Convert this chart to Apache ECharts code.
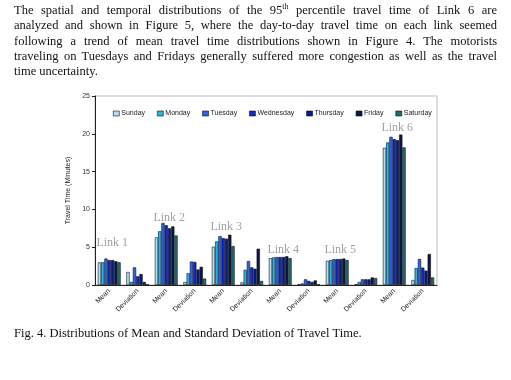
<!DOCTYPE html>
<html>
<head>
<meta charset="utf-8">
<script src="https://cdn.jsdelivr.net/npm/echarts@6/dist/echarts.min.js"></script>
<style>
html,body{margin:0;padding:0;background:#fff;}
#wrap{position:relative;width:511px;height:380px;overflow:hidden;}
#chart{position:absolute;left:0;top:0;width:511px;height:380px;}
.para{position:absolute;left:14px;width:483px;font-family:"Liberation Serif",serif;font-size:12.5px;color:#111;line-height:15.3px;}
.ln{text-align:justify;text-align-last:justify;white-space:nowrap;height:15.3px;}
.ln.last{text-align-last:left;}
#cap{position:absolute;left:14px;top:326px;font-family:"Liberation Serif",serif;font-size:12.5px;color:#111;}
</style>
</head>
<body>
<div id="wrap">
<div id="chart"></div>
<div class="para" style="top:3px;">
<div class="ln">The spatial and temporal distributions of the 95<sup style="font-size:8px;line-height:0;">th</sup> percentile travel time of Link 6 are</div>
<div class="ln">analyzed and shown in Figure 5, where the day-to-day travel time on each link seemed</div>
<div class="ln">following a trend of mean travel time distributions shown in Figure 4. The motorists</div>
<div class="ln">traveling on Tuesdays and Fridays generally suffered more congestion as well as the travel</div>
<div class="ln last">time uncertainty.</div>
</div>
<div id="cap">Fig. 4. Distributions of Mean and Standard Deviation of Travel Time.</div>
</div>
<script>
// Categories (x axis)
const categories = ['Mean','Deviation','Mean','Deviation','Mean','Deviation','Mean','Deviation','Mean','Deviation','Mean','Deviation'];
// Series (days) and values per category
const sunday    = [3.0, 1.72, 6.3, 0.4, 5.07, 0.35, 3.55, 0.1, 3.2, 0.1, 18.15, 0.66];
const monday    = [3.0, 0.4, 7.1, 1.55, 5.77, 2.0, 3.65, 0.2, 3.3, 0.4, 18.85, 2.25];
const tuesday   = [3.5, 2.33, 8.2, 3.1, 6.47, 3.17, 3.7, 0.75, 3.43, 0.75, 19.6, 3.44];
const wednesday = [3.3, 1.15, 7.9, 3.05, 6.2, 2.33, 3.7, 0.55, 3.43, 0.75, 19.3, 2.3];
const thursday  = [3.3, 1.45, 7.5, 2.05, 6.12, 2.15, 3.7, 0.4, 3.43, 0.75, 19.16, 1.9];
const friday    = [3.15, 0.4, 7.75, 2.4, 6.65, 4.8, 3.8, 0.6, 3.5, 1.0, 19.9, 4.1];
const saturday  = [3.0, 0.1, 6.55, 0.85, 5.15, 0.53, 3.55, 0.1, 3.3, 0.92, 18.2, 1.0];
const dayNames = ['Sunday','Monday','Tuesday','Wednesday','Thursday','Friday','Saturday'];
const dayValues = [sunday, monday, tuesday, wednesday, thursday, friday, saturday];
// Y-axis ticks
const yMin = 0, yMax = 25, yStep = 5;
// Link annotations: [label, category index, value]
const linkLabels = ['Link 1','Link 2','Link 3','Link 4','Link 5','Link 6'];
const linkCats = [0, 2, 4, 6, 8, 10];
const linkVals = [5.55, 8.9, 7.65, 4.6, 4.6, 20.8];

const colors = ['#b4ddf2','#2db4e6','#2e66dc','#0c2bc8','#061a8c','#0b1748','#1f6e70'];

const chart = echarts.init(document.getElementById('chart'), null, {renderer:'canvas'});
const series = dayNames.map((n,i)=>({
  name:n, type:'bar', data:dayValues[i],
  barGap:'0%', barCategoryGap:'20%',
  itemStyle:{color:colors[i], borderColor:'#111', borderWidth:0.6},
  emphasis:{disabled:true}
}));
series.push({
  type:'scatter', name:'links', symbolSize:0, silent:true,
  data: linkLabels.map((l,i)=>({value:[linkCats[i], linkVals[i]], name:l})),
  label:{show:true, position:'inside', formatter:p=>p.name, fontFamily:'Liberation Serif, serif', fontSize:12, color:'#8a8a8a', offset:[3,0]}
});
chart.setOption({
  animation:false,
  backgroundColor:'transparent',
  legend:{
    data:dayNames, top:105, left:108, itemGap:12, itemWidth:6, itemHeight:5,
    icon:'rect',
    textStyle:{fontFamily:'Liberation Sans, Arial, sans-serif', fontSize:7, color:'#222', padding:[0,0,0,-3]},
    itemStyle:{borderColor:'#111', borderWidth:0.6}
  },
  grid:{left:95, right:74, top:96, bottom:95, show:true, borderColor:'#bdbdbd', borderWidth:1},
  xAxis:{
    type:'category', data:categories,
    axisLine:{lineStyle:{color:'#222', width:1}},
    axisTick:{show:false},
    axisLabel:{rotate:45, interval:0, fontFamily:'Liberation Sans, Arial, sans-serif', fontSize:7, color:'#222', margin:5}
  },
  yAxis:{
    type:'value', min:yMin, max:yMax, interval:yStep,
    name:'Travel Time (Minutes)', nameLocation:'middle', nameGap:22, nameRotate:90,
    nameTextStyle:{fontFamily:'Liberation Sans, Arial, sans-serif', fontSize:7, color:'#222'},
    axisLine:{show:true, lineStyle:{color:'#222', width:1}},
    axisTick:{show:true, length:3, lineStyle:{color:'#222'}},
    splitLine:{show:false},
    axisLabel:{fontFamily:'Liberation Sans, Arial, sans-serif', fontSize:7, color:'#333', margin:5}
  },
  series:series
});
</script>
</body>
</html>
